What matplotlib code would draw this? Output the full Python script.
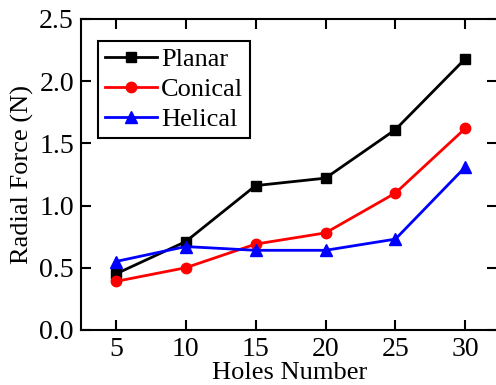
import matplotlib
matplotlib.use('Agg')
import matplotlib.pyplot as plt

plt.rcParams['font.family'] = 'Liberation Serif'
plt.rcParams['font.size'] = 19

holes = [5, 10, 15, 20, 25, 30]
planar = [0.45, 0.71, 1.16, 1.22, 1.61, 2.18]
conical = [0.39, 0.50, 0.69, 0.78, 1.10, 1.62]
helical = [0.55, 0.67, 0.64, 0.64, 0.73, 1.31]

fig = plt.figure(figsize=(4.96, 3.85), dpi=100)
ax = fig.add_axes([0.163, 0.143, 0.84, 0.808])

ax.plot(holes, planar, color='black', marker='s', lw=2, ms=7, label='Planar')
ax.plot(holes, conical, color='red', marker='o', lw=2, ms=7.5, label='Conical')
ax.plot(holes, helical, color='blue', marker='^', lw=2, ms=8, label='Helical')

ax.set_xlim(2.5, 32.3)
ax.set_ylim(0, 2.5)
ax.set_xticks(holes)
ax.set_yticks([0.0, 0.5, 1.0, 1.5, 2.0, 2.5])
ax.set_yticklabels(['0.0', '0.5', '1.0', '1.5', '2.0', '2.5'])
ax.tick_params(direction='in', top=True, right=True, width=1.5, length=7,
               labelsize=20, pad=5)
for s in ax.spines.values():
    s.set_linewidth(1.5)

ax.set_xlabel('Holes Number', fontsize=19, labelpad=0)
ax.set_ylabel('Radial Force (N)', fontsize=19, labelpad=4)

leg = ax.legend(loc='upper left', bbox_to_anchor=(0.041, 0.929), borderaxespad=0,
                fancybox=False, edgecolor='black', framealpha=1, handlelength=2.0,
                borderpad=0.25, labelspacing=0.25, handletextpad=0.15, fontsize=19)
leg.get_frame().set_linewidth(1.5)

fig.savefig('out.png', dpi=100)
